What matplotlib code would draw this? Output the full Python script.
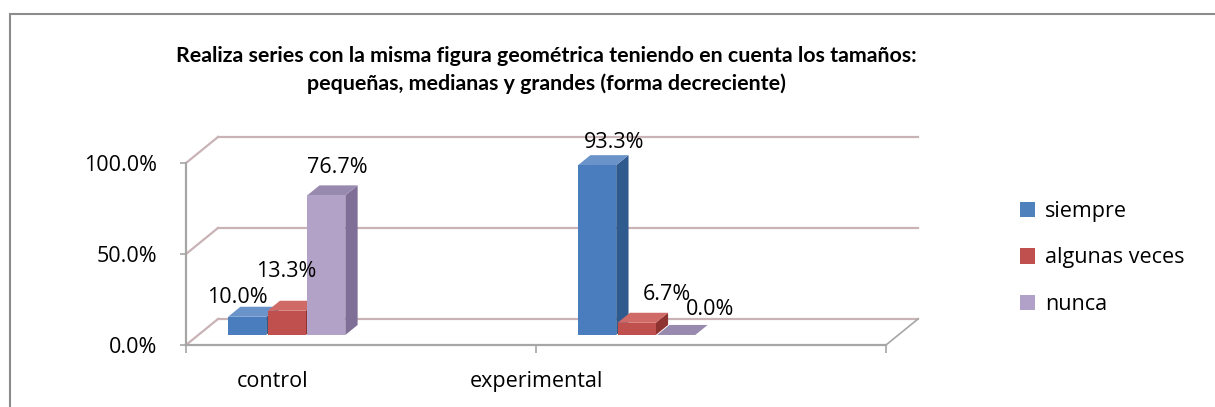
import numpy as np
import matplotlib
matplotlib.use("Agg")
import matplotlib.pyplot as plt
from matplotlib.patches import Polygon, Patch, Rectangle

plt.rcParams['font.family'] = ['Open Sans', 'DejaVu Sans']

# data
categories = ['control', 'experimental']
series_names = ['siempre', 'algunas veces', 'nunca']
siempre = [10.0, 93.3]
algunas_veces = [13.3, 6.7]
nunca = [76.7, 0.0]
y_ticks = [0, 50, 100]
title = ('Realiza series con la misma figura geométrica teniendo en cuenta los tamaños:\n'
         'pequeñas, medianas y grandes (forma decreciente)')

# styles (front, side, top)
colors = [('#4a7dbd', '#2f5a8e', '#6a93c9'),
          ('#c0504d', '#8e332f', '#d06a66'),
          ('#b3a2c7', '#7f6f96', '#988aae')]
legend_colors = ['#4f81bd', '#c0504d', '#b1a0c7']
grid_color = '#c9b3b6'
axis_color = '#a6a6a6'
fs = 15.5

# pseudo 3d geometry, in data units
DX, DY = 0.0914, 14.3      # full depth of the floor
D0, D1 = 0.385, 0.77       # bars sit in this depth slice
bar_w = 0.109
bar_offsets = [-0.415, -0.302, -0.189]
label_nudge_px = [[(-10, 19), (17, 23)], [(0, 39), (30, 28)], [(11, 28), (34, 25)]]


def proj(x, y, d):
    return x + d * DX, y + d * DY


fig = plt.figure(figsize=(12.15, 4.07), dpi=100)
fig.patches.append(Rectangle((10 / 1215, -0.5), 1.5, 1.5 - 14 / 407, transform=fig.transFigure,
                             fill=False, edgecolor='#8c8c8c', linewidth=1.5))

ax = fig.add_axes([186 / 1215, 62 / 407, 700 / 1215, 182 / 407])
ax.set_xlim(-0.5, 1.5)
ax.set_ylim(0, 100)
for s in ax.spines.values():
    s.set_visible(False)

# walls and floor
for v in y_ticks:
    bx0, by0 = proj(-0.5, v, 1)
    bx1, by1 = proj(1.5, v, 1)
    ax.plot([bx0, bx1], [by0, by1], color=grid_color, lw=1.6, clip_on=False, zorder=1)
    ax.plot([-0.5, bx0], [v, by0], color=grid_color, lw=1.6, clip_on=False, zorder=1)
ax.plot([-0.5, 1.5], [0, 0], color=axis_color, lw=1.6, clip_on=False, zorder=1)
rx, ry = proj(1.5, 0, 1)
ax.plot([1.5, rx], [0, ry], color=axis_color, lw=1.2, clip_on=False, zorder=1)
ax.plot([-0.5, -0.5], [0, 100], color=axis_color, lw=1.6, clip_on=False, zorder=1)

# bars
x = np.arange(len(categories))
for i, vals in enumerate([siempre, algunas_veces, nunca]):
    front, side, top = colors[i]
    lefts = x + bar_offsets[i]
    fx, base = proj(lefts, 0, D0)
    sx = (D1 - D0) * DX
    sy = (D1 - D0) * DY
    for j in range(len(x)):
        v = vals[j]
        l = fx[j]
        r = l + bar_w
        ax.add_patch(Polygon([(r, base), (r + sx, base + sy), (r + sx, base + sy + v), (r, base + v)],
                             closed=True, facecolor=side, edgecolor='none', clip_on=False, zorder=3 + i))
        ax.add_patch(Polygon([(l, base + v), (r, base + v), (r + sx, base + sy + v), (l + sx, base + sy + v)],
                             closed=True, facecolor=top, edgecolor='none', clip_on=False, zorder=3 + i))
    ax.bar(fx, vals, width=bar_w, bottom=base, align='edge', color=front,
           edgecolor='none', clip_on=False, zorder=3 + i)
    for j in range(len(x)):
        dx, dy = label_nudge_px[i][j]
        ax.annotate(f'{vals[j]:.1f}%', xy=(fx[j] + bar_w / 2, base + vals[j]),
                    xytext=(dx / 1.389, dy / 1.389), textcoords='offset points',
                    ha='center', va='center', fontsize=fs, zorder=10)

# axes ticks
ax.set_yticks(y_ticks)
ax.set_yticklabels([f'{v:.1f}%' for v in y_ticks], fontsize=fs)
ax.tick_params(axis='y', length=4, color=axis_color, width=1.2, pad=17)
ax.set_xticks([-0.5, 0.5, 1.5])
ax.set_xticklabels([])
ax.tick_params(axis='x', length=6, color=axis_color, width=1.2)
label_x = [-0.254, 0.5]
for lx, name in zip(label_x, categories):
    ax.text(lx, -20, name, ha='center', va='center', fontsize=fs)

fig.text(546 / 1215, 1 - 70 / 407, title, ha='center', va='center', family=['Lato', 'DejaVu Sans'],
         fontsize=15.4, fontweight='bold', linespacing=1.45)

handles = [Patch(facecolor=c, edgecolor='none') for c in legend_colors]
fig.legend(handles, series_names, loc='center left', bbox_to_anchor=(1001 / 1215, 1 - 258 / 407),
           frameon=False, fontsize=fs, handlelength=0.7, handleheight=0.7,
           handletextpad=0.45, labelspacing=1.2)

fig.savefig('out.png', dpi=100)
